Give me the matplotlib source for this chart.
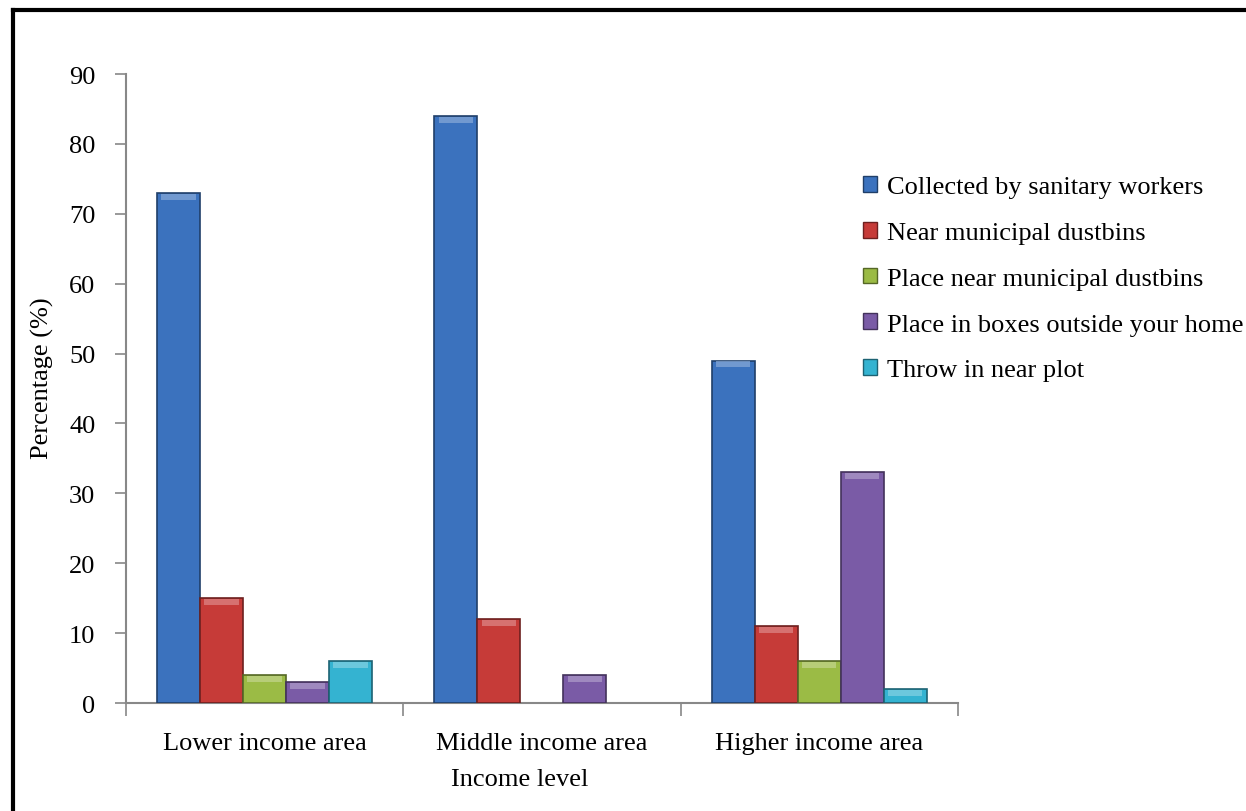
import matplotlib.pyplot as plt
import matplotlib.colors as mcolors
from matplotlib.patches import Patch
from matplotlib.lines import Line2D
import numpy as np

plt.rcParams['font.family'] = ['Liberation Serif', 'DejaVu Serif']

categories = ['Lower income area', 'Middle income area', 'Higher income area']
series = ['Collected by sanitary workers', 'Near municipal dustbins',
          'Place near municipal dustbins', 'Place in boxes outside your home',
          'Throw in near plot']
collected = [73, 84, 49]
near_bins = [15, 12, 11]
place_near = [4, 0, 6]
boxes = [3, 4, 33]
throw_plot = [6, 0, 2]
values = [collected, near_bins, place_near, boxes, throw_plot]
colors = ['#3B72BE', '#C63B38', '#9BBB45', '#7A5BA6', '#34B3D1']

fig = plt.figure(figsize=(12.46, 8.12), dpi=100)
ax = fig.add_axes([0.1011, 0.1330, 0.6677, 0.7746])

ind = np.arange(len(categories))
width = 0.155
cap = 1.1

handles = []
for j, (vals, c) in enumerate(zip(values, colors)):
    pos = ind + (j - 2) * width
    dark = np.array(mcolors.to_rgb(c)) * 0.55
    light = np.clip(np.array(mcolors.to_rgb(c)) * 0.6 + 0.4, 0, 1)
    v = np.array(vals, dtype=float)
    keep = v > 0
    ax.bar(pos[keep], v[keep], width, color=c, edgecolor=dark, linewidth=1.2, zorder=3)
    # bevel highlight on top of each bar
    ax.bar(pos[keep], np.minimum(cap, v[keep]) * 0.8, width * 0.8,
           bottom=v[keep] - np.minimum(cap, v[keep]) * 0.9,
           color=light, linewidth=0, alpha=0.7, zorder=4)
    handles.append(Patch(facecolor=c, edgecolor=dark, linewidth=1.0))

ax.set_xlim(-0.5, 2.5)
ax.set_ylim(0, 90)
ax.set_yticks(np.arange(0, 91, 10))
ax.set_xticks(ind)
ax.set_xticklabels(categories)
ax.set_xticks([-0.5, 0.5, 1.5, 2.5], minor=True)
ax.tick_params(axis='x', which='major', length=0, pad=21, labelsize=19)
ax.tick_params(axis='x', which='minor', length=9, direction='out', color='#888888', width=1.2)
ax.tick_params(axis='y', length=8, direction='out', color='#888888', width=1.2, labelsize=19, pad=14)

for s in ['top', 'right']:
    ax.spines[s].set_visible(False)
for s in ['left', 'bottom']:
    ax.spines[s].set_color('#888888')
    ax.spines[s].set_linewidth(1.5)

fig.text(0.034, 0.5345, 'Percentage (%)', rotation=90, ha='center', va='center', fontsize=19)
fig.text(0.417, 0.040, 'Income level', ha='center', va='center', fontsize=19)

fig.legend(handles, series, loc='upper left', bbox_to_anchor=(0.684, 0.795),
           frameon=False, fontsize=19, handlelength=0.55, handleheight=0.55,
           handletextpad=0.35, labelspacing=0.89, borderaxespad=0)

# figure frame (top and left visible)
fig.add_artist(Line2D([0.0108, 1.0], [0.9865, 0.9865], color='black', linewidth=3, transform=fig.transFigure))
fig.add_artist(Line2D([0.0108, 0.0108], [0.0, 0.9865], color='black', linewidth=3, transform=fig.transFigure))

plt.savefig('out.png', dpi=100)
